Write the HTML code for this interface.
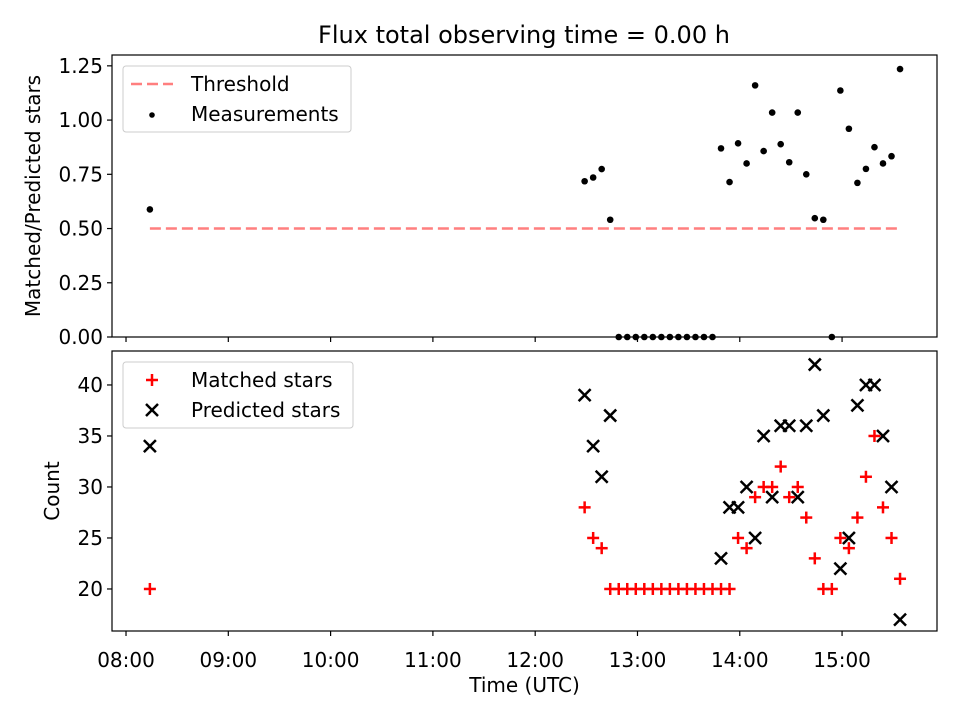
<!DOCTYPE html>
<html><head><meta charset="utf-8"><style>
body{margin:0;background:#fff}
svg{display:block;font-family:"DejaVu Sans","Liberation Sans",sans-serif}
</style></head><body>
<svg id="chart" width="960" height="720" viewBox="0 0 960 720">
<text x="524" y="43" font-size="24" text-anchor="middle">Flux total observing time = 0.00 h</text>
</svg>
<script>
const times = ["08:14","12:29","12:34","12:39","12:44","12:49","12:54","12:59","13:04","13:09","13:14","13:19","13:24","13:29","13:34","13:39","13:44","13:49","13:54","13:59","14:04","14:09","14:14","14:19","14:24","14:29","14:34","14:39","14:44","14:49","14:54","14:59","15:04","15:09","15:14","15:19","15:24","15:29","15:34"];
const matched = [20,28,25,24,20,20,20,20,20,20,20,20,20,20,20,20,20,20,20,25,24,29,30,30,32,29,30,27,23,20,20,25,24,27,31,35,28,25,21];
const predicted = [34,39,34,31,37,null,null,null,null,null,null,null,null,null,null,null,null,23,28,28,30,25,35,29,36,36,29,36,42,37,null,22,25,38,40,40,35,30,17];
const ratioTicks = ["0.00","0.25","0.50","0.75","1.00","1.25"];
const countTicks = [20,25,30,35,40];
const timeTicks = ["08:00","09:00","10:00","11:00","12:00","13:00","14:00","15:00"];
const threshold = [0.5];

const svg = document.getElementById('chart');
const NS = 'http://www.w3.org/2000/svg';
const FS = 20;
function mk(tag, attrs, parent){const e=document.createElementNS(NS,tag);for(const k in attrs)e.setAttribute(k,attrs[k]);(parent||svg).appendChild(e);return e;}
function hrs(t){const p=t.split(':');return +p[0]+(+p[1])/60;}
const L=112,R=937;
const xs = h => L + (h-7.863)/(15.928-7.863)*(R-L);
const T1=55,B1=337, yr = v => B1 - (v-0)/(1.30-0)*(B1-T1);
const T2=351,B2=631, yc = v => B2 - (v-15.88)/(43.33-15.88)*(B2-T2);

let f1=mk('rect',{x:L,y:T1,width:R-L,height:B1-T1,fill:'none',stroke:'#000','stroke-width':1.2});


let f2=mk('rect',{x:L,y:T2,width:R-L,height:B2-T2,fill:'none',stroke:'#000','stroke-width':1.2});



ratioTicks.forEach(t=>{const y=yr(+t);
 mk('line',{x1:L-5,x2:L,y1:y,y2:y,stroke:'#000','stroke-width':1.2});
 const tx=mk('text',{x:L-9,y:y+7,'font-size':FS,'text-anchor':'end'});tx.textContent=t;
 
 
});
countTicks.forEach(t=>{const y=yc(t);
 mk('line',{x1:L-5,x2:L,y1:y,y2:y,stroke:'#000','stroke-width':1.2});
 const tx=mk('text',{x:L-9,y:y+7,'font-size':FS,'text-anchor':'end'});tx.textContent=t;
 
 
});
timeTicks.forEach(t=>{const x=xs(hrs(t));
 mk('line',{x1:x,x2:x,y1:B1,y2:B1+5,stroke:'#000','stroke-width':1.2});
 mk('line',{x1:x,x2:x,y1:B2,y2:B2+5,stroke:'#000','stroke-width':1.2});
 const tx=mk('text',{x:x,y:B2+36,'font-size':FS,'text-anchor':'middle'});tx.textContent=t;
 
 
});
let yl1=mk('text',{x:0,y:0,'font-size':FS,'text-anchor':'middle',transform:`translate(40,${(T1+B1)/2}) rotate(-90)`});
yl1.textContent='Matched/Predicted stars';


let yl2=mk('text',{x:0,y:0,'font-size':FS,'text-anchor':'middle',transform:`translate(59,${(T2+B2)/2}) rotate(-90)`});
yl2.textContent='Count';


let xl=mk('text',{x:(L+R)/2,y:692,'font-size':FS,'text-anchor':'middle'});
xl.textContent='Time (UTC)';



const th=mk('line',{x1:xs(hrs(times[0])),x2:xs(hrs(times[times.length-1])),y1:yr(threshold[0]),y2:yr(threshold[0]),stroke:'#ff7f7f','stroke-width':2.5,'stroke-dasharray':'11,5'});



times.forEach((t,i)=>{
 const r = predicted[i]==null ? 0 : matched[i]/predicted[i];
 const c=mk('circle',{cx:xs(hrs(t)),cy:yr(r),r:3.3,fill:'#000'});
 
 
});
function plus(x,y,col,parent){const g=mk('g',{stroke:col,'stroke-width':2.5},parent);mk('line',{x1:x-6,x2:x+6,y1:y,y2:y},g);mk('line',{x1:x,x2:x,y1:y-6,y2:y+6},g);return g;}
function cross(x,y,col,parent){const g=mk('g',{stroke:col,'stroke-width':2.5},parent);mk('line',{x1:x-6,x2:x+6,y1:y-6,y2:y+6},g);mk('line',{x1:x-6,x2:x+6,y1:y+6,y2:y-6},g);return g;}
times.forEach((t,i)=>{
 const g=plus(xs(hrs(t)),yc(matched[i]),'#ff0000');
 
 
});
times.forEach((t,i)=>{
 if(predicted[i]==null)return;
 const g=cross(xs(hrs(t)),yc(predicted[i]),'#000');
 
 
});

const lg1=mk('g',{});


mk('rect',{x:123,y:66,width:228,height:66,rx:3,fill:'#fff','fill-opacity':0.8,stroke:'#ccc'},lg1);
mk('line',{x1:131,x2:173,y1:84,y2:84,stroke:'#ff7f7f','stroke-width':2.5,'stroke-dasharray':'11,5'},lg1);
let a=mk('text',{x:191,y:91,'font-size':FS},lg1);a.textContent='Threshold';
mk('circle',{cx:152,cy:115,r:2.8,fill:'#000'},lg1);
a=mk('text',{x:191,y:121,'font-size':FS},lg1);a.textContent='Measurements';
const lg2=mk('g',{});


mk('rect',{x:123,y:362,width:230,height:66,rx:3,fill:'#fff','fill-opacity':0.8,stroke:'#ccc'},lg2);
plus(152,380,'#ff0000',lg2);
a=mk('text',{x:191,y:387,'font-size':FS},lg2);a.textContent='Matched stars';
cross(152,410,'#000',lg2);
a=mk('text',{x:191,y:417,'font-size':FS},lg2);a.textContent='Predicted stars';
</script>
</body></html>
